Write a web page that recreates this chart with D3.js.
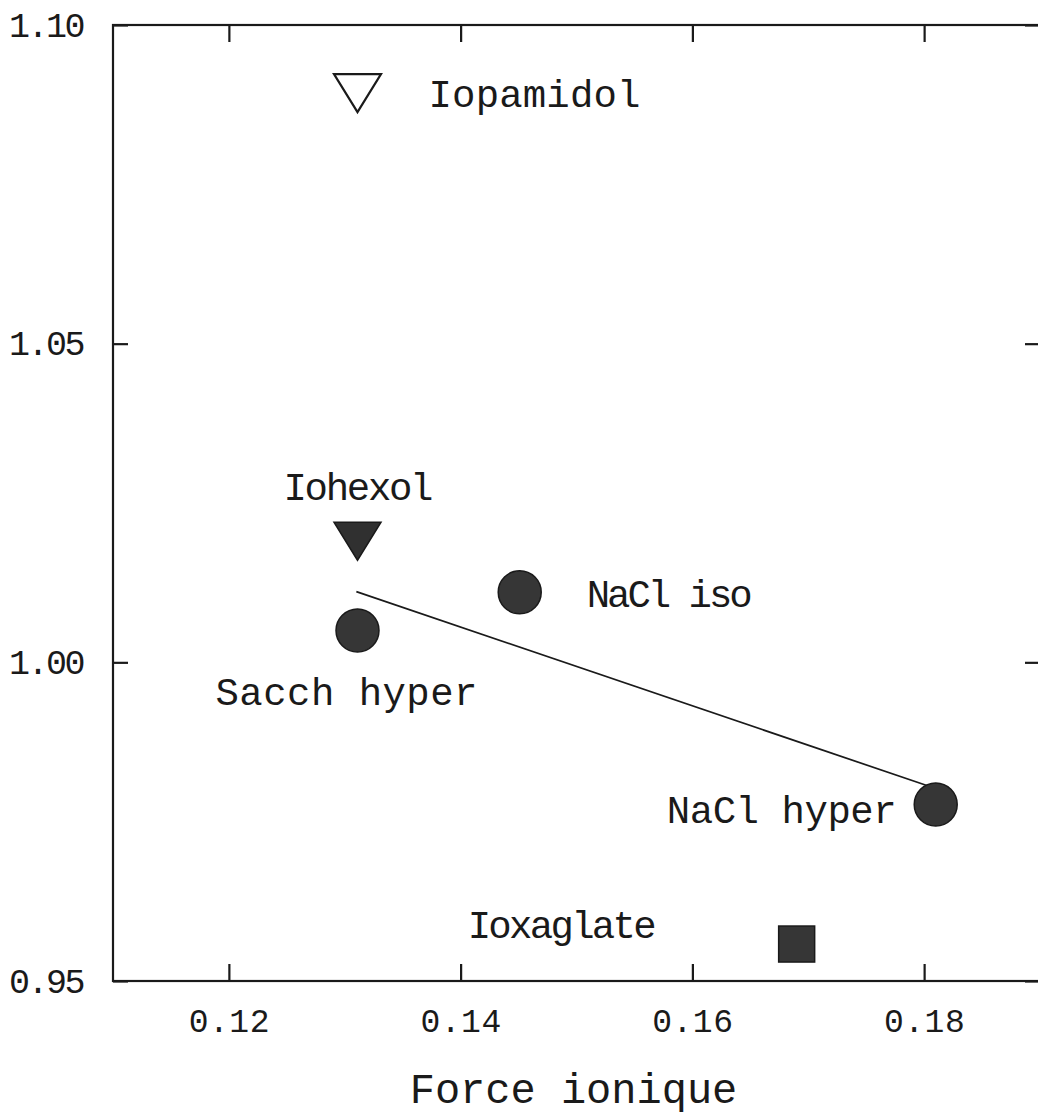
<!DOCTYPE html>
<html>
<head>
<meta charset="utf-8">
<script src="https://cdn.jsdelivr.net/npm/d3@7"></script>
<style>
  body { margin: 0; background: #fff; }
  svg text { font-family: "Liberation Mono", "DejaVu Sans Mono", monospace; fill: #1a1a1a; }
  .axis path { display: none; }
  .axis line { stroke: #1a1a1a; stroke-width: 2.2; }
  .frame { fill: none; stroke: #1a1a1a; stroke-width: 2.2; }
  .fit { fill: none; stroke: #1a1a1a; stroke-width: 1.7; }
</style>
</head>
<body>
<svg id="chart" width="1038" height="1115"></svg>
<script>
/* Force ionique vs ratio */

const names   = ["Iopamidol", "Iohexol", "NaCl iso", "Sacch hyper", "NaCl hyper", "Ioxaglate"];
const xValues = [0.1311, 0.1311, 0.1451, 0.1311, 0.1810, 0.1690];
const yValues = [1.0893, 1.0190, 1.0110, 1.0050, 0.9777, 0.9558];
const shapes  = ["triangleOpen", "triangle", "circle", "circle", "circle", "square"];

// regression line through the three circles, end points
const fitX = [0.131, 0.181];
const fitY = [1.0111, 0.9802];

const xTicks = [0.12, 0.14, 0.16, 0.18];
const yTicks = [0.95, 1.00, 1.05, 1.10];
const xTitle = "Force ionique";

// label placement relative to each marker (pixels), with the printed width
const labelLayout = {
    "Iopamidol":   {dx: 71,   dy: 14,  anchor: "start",  w: 212},
    "Iohexol":     {dx: 1,    dy: -41, anchor: "middle", w: 150},
    "NaCl iso":    {dx: 67,   dy: 15,  anchor: "start",  w: 166},
    "Sacch hyper": {dx: -11,  dy: 75,  anchor: "middle", w: 262},
    "NaCl hyper":  {dx: -39,  dy: 19,  anchor: "end",    w: 230},
    "Ioxaglate":   {dx: -140, dy: -6,  anchor: "end",    w: 189}
};

const plot = {left: 113, right: 1040, top: 25, bottom: 981};

const x = d3.scaleLinear().domain([0.11, 0.19]).range([plot.left, plot.right]);
const y = d3.scaleLinear().domain([0.95, 1.10]).range([plot.bottom, plot.top]);

const svg = d3.select("#chart");

svg.append("rect").attr("class", "frame")
    .attr("x", plot.left).attr("y", plot.top)
    .attr("width", plot.right - plot.left)
    .attr("height", plot.bottom - plot.top);

// bottom axis with labels, ticks pointing inward
svg.append("g").attr("class", "axis")
    .attr("transform", `translate(0,${plot.bottom})`)
    .call(d3.axisBottom(x).tickValues(xTicks).tickSizeInner(-17).tickSizeOuter(0)
        .tickPadding(28).tickFormat(d3.format(".2f")))
    .selectAll("text").style("font-size", "33px").style("letter-spacing", "0.5px");

svg.append("g").attr("class", "axis")
    .attr("transform", `translate(0,${plot.top})`)
    .call(d3.axisTop(x).tickValues(xTicks).tickSizeInner(-17).tickSizeOuter(0).tickFormat(""));

svg.append("g").attr("class", "axis")
    .attr("transform", `translate(${plot.left},0)`)
    .call(d3.axisLeft(y).tickValues(yTicks).tickSizeInner(-15).tickSizeOuter(0)
        .tickPadding(30).tickFormat(d3.format(".2f")))
    .selectAll("text").style("font-size", "35px").style("letter-spacing", "-2.5px");

svg.append("g").attr("class", "axis")
    .attr("transform", `translate(${plot.right},0)`)
    .call(d3.axisRight(y).tickValues(yTicks).tickSizeInner(-15).tickSizeOuter(0).tickFormat(""));

svg.append("text")
    .attr("x", (plot.left + plot.right) / 2 - 3).attr("y", 1103)
    .attr("text-anchor", "middle")
    .style("font-size", "42px")
    .text(xTitle);

// fitted line
svg.append("path").attr("class", "fit")
    .datum(fitX.map((v, i) => [v, fitY[i]]))
    .attr("d", d3.line().x(d => x(d[0])).y(d => y(d[1])));

// markers
const tri = "M-23.5,-19L23.5,-19L0,19Z";
const points = names.map((n, i) => ({name: n, x: xValues[i], y: yValues[i], shape: shapes[i]}));

const marks = svg.append("g").selectAll("g.pt")
    .data(points).enter()
    .append("g").attr("class", "pt")
    .attr("transform", d => `translate(${x(d.x)},${y(d.y)})`);

marks.each(function(d) {
    const g = d3.select(this);
    if (d.shape === "circle") {
        g.append("circle").attr("r", 21.5)
            .attr("fill", "#363636").attr("stroke", "#1a1a1a").attr("stroke-width", 1.5);
    } else if (d.shape === "square") {
        g.append("rect").attr("x", -18).attr("y", -18).attr("width", 36).attr("height", 36)
            .attr("fill", "#363636").attr("stroke", "#1a1a1a").attr("stroke-width", 1.5);
    } else if (d.shape === "triangle") {
        g.append("path").attr("d", tri)
            .attr("fill", "#303030").attr("stroke", "#1a1a1a").attr("stroke-width", 1.5);
    } else {
        g.append("path").attr("d", tri)
            .attr("fill", "#fff").attr("stroke", "#1a1a1a").attr("stroke-width", 2.2)
            .attr("stroke-linejoin", "miter");
    }
});

// labels
marks.append("text")
    .attr("x", d => labelLayout[d.name].dx)
    .attr("y", d => labelLayout[d.name].dy)
    .attr("text-anchor", d => labelLayout[d.name].anchor)
    .attr("textLength", d => labelLayout[d.name].w)
    .attr("lengthAdjust", "spacing")
    .style("font-size", "39px")
    .text(d => d.name);
</script>
</body>
</html>
